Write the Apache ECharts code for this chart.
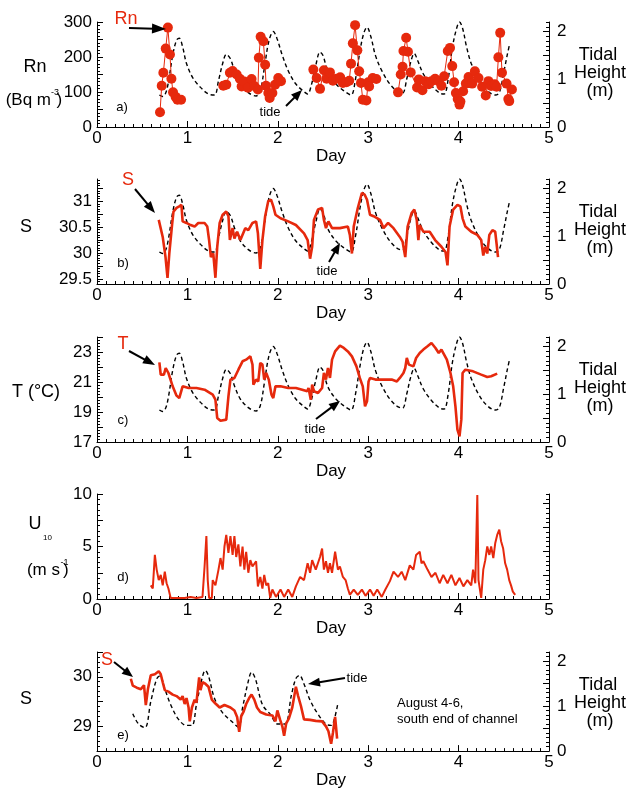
<!DOCTYPE html>
<html>
<head>
<meta charset="utf-8">
<script src="https://cdn.jsdelivr.net/npm/echarts@6/dist/echarts.min.js"></script>
<style>html,body{margin:0;padding:0;background:#fff}#c{width:629px;height:790px}</style>
</head>
<body>
<div id="c"></div>
<script>
// ---------- DATA ----------
const dayTicks = [0, 1, 2, 3, 4, 5];
const tideTickLabels = [0, 1, 2];

// shared tide record (panels a-c)
const tideDay = [0.69,0.727,0.76,0.79,0.837,0.88,0.91,0.947,0.99,1.057,1.145,1.233,1.30,1.344,1.39,1.43,1.476,1.52,1.586,1.674,1.76,1.806,1.85,1.90,1.95,1.99,2.05,2.115,2.20,2.29,2.33,2.37,2.42,2.467,2.50,2.555,2.643,2.73,2.81,2.86,2.907,2.95,2.987,3.03,3.08,3.15,3.24,3.326,3.38,3.427,3.47,3.51,3.546,3.61,3.70,3.79,3.84,3.885,3.93,3.974,4.01,4.044,4.088,4.14,4.23,4.317,4.405,4.45,4.50,4.537,4.56];
const tideHeight = [0.67,0.64,0.71,0.94,1.50,1.82,1.86,1.68,1.33,1.04,0.83,0.69,0.67,0.97,1.33,1.52,1.43,1.18,0.90,0.72,0.65,0.76,1.22,1.79,2.0,1.86,1.50,1.18,0.90,0.74,0.69,0.87,1.29,1.57,1.50,1.15,0.90,0.76,0.67,1.01,1.57,1.96,2.09,1.89,1.50,1.18,0.90,0.74,0.71,1.01,1.36,1.54,1.40,1.11,0.87,0.71,0.69,1.01,1.65,2.04,2.2,2.07,1.68,1.33,0.97,0.76,0.67,0.72,1.15,1.50,1.70];

// a) Radon
const rnDay = [0.697,0.716,0.734,0.76,0.784,0.807,0.823,0.841,0.87,0.89,0.93,
  1.397,1.43,1.47,1.50,1.545,1.58,1.60,1.63,1.67,1.71,1.74,1.78,1.79,1.81,1.84,1.86,1.87,1.895,1.91,1.94,1.97,2.005,2.035,
  2.393,2.43,2.467,2.51,2.54,2.577,2.61,2.65,2.69,2.72,2.76,2.79,2.81,2.83,2.855,2.88,2.90,2.92,2.94,2.98,3.0,3.01,3.05,3.09,
  3.33,3.36,3.38,3.39,3.42,3.44,3.47,3.54,3.56,3.60,3.63,3.67,3.70,3.74,3.78,3.81,3.84,3.88,3.905,3.93,3.95,3.97,3.99,4.01,4.02,4.05,4.08,4.11,4.15,4.18,4.22,4.26,4.30,4.33,4.36,4.40,4.42,4.44,4.46,4.48,4.53,4.55,4.56,4.59];
const rnValue = [42,118,155,224,284,207,138,99,86,78,78,
  118,121,155,160,150,138,116,130,112,137,117,107,198,258,245,178,118,97,83,97,121,140,131,
  164,140,109,162,138,156,132,138,142,126,128,132,181,239,291,219,159,126,78,76,128,116,140,137,
  99,150,172,217,255,215,156,113,136,105,131,122,131,138,131,118,145,217,226,174,128,97,80,64,73,102,124,143,124,159,140,115,90,131,117,122,115,199,269,155,124,80,74,107];

// b) Salinity
const salDay = [0.683,0.727,0.758,0.78,0.80,0.83,0.846,0.88,0.91,0.934,0.947,0.99,1.035,1.08,1.12,1.19,1.22,1.24,1.26,1.286,1.31,1.33,1.357,1.39,1.43,1.454,1.47,1.50,1.52,1.55,1.586,1.64,1.674,1.72,1.76,1.78,1.806,1.83,1.86,1.894,1.925,1.95,1.974,2.03,2.115,2.20,2.29,2.33,2.357,2.38,2.40,2.445,2.49,2.51,2.533,2.56,2.60,2.687,2.775,2.797,2.82,2.84,2.885,2.93,2.96,2.987,3.02,3.06,3.13,3.17,3.22,3.28,3.35,3.38,3.41,3.436,3.48,3.51,3.537,3.555,3.57,3.61,3.68,3.74,3.81,3.855,3.877,3.90,3.94,3.987,4.02,4.044,4.075,4.14,4.207,4.25,4.273,4.295,4.317,4.34,4.374,4.405,4.42,4.436];
const salValue = [30.64,30.31,29.92,29.52,29.99,30.54,30.80,30.87,30.90,30.93,30.61,30.58,30.54,30.51,30.58,30.58,30.51,30.25,29.92,29.99,29.52,30.12,30.58,30.74,30.80,30.71,30.25,30.48,30.28,30.41,30.25,30.48,30.44,30.58,30.61,30.38,29.69,30.25,30.71,31.0,31.03,30.90,30.74,30.67,30.61,30.54,30.38,30.25,29.89,30.12,30.64,30.84,30.87,30.64,30.48,30.61,30.48,30.48,30.51,30.35,29.99,30.51,30.87,31.16,31.13,31.03,30.74,30.71,30.64,30.48,30.58,30.48,30.31,30.22,29.92,30.51,30.77,30.84,30.64,30.25,30.54,30.41,30.41,30.25,30.12,30.02,29.76,30.51,30.84,30.93,30.90,30.67,30.51,30.41,30.35,30.25,29.95,30.12,29.99,30.35,30.44,30.41,30.18,29.92];

// c) Temperature
const tempDay = [0.69,0.705,0.74,0.76,0.79,0.837,0.88,0.91,0.947,1.013,1.10,1.19,1.28,1.31,1.33,1.366,1.43,1.454,1.476,1.52,1.564,1.61,1.65,1.696,1.72,1.73,1.76,1.784,1.806,1.83,1.85,1.872,1.90,1.93,1.95,1.974,2.03,2.115,2.20,2.27,2.326,2.34,2.365,2.38,2.40,2.445,2.49,2.51,2.533,2.555,2.577,2.60,2.634,2.687,2.73,2.775,2.82,2.84,2.87,2.907,2.94,2.965,2.987,3.004,3.02,3.08,3.17,3.26,3.317,3.35,3.39,3.41,3.427,3.45,3.47,3.50,3.53,3.57,3.61,3.656,3.70,3.744,3.78,3.81,3.83,3.87,3.91,3.94,3.965,3.987,4.01,4.03,4.044,4.075,4.16,4.25,4.317,4.36,4.427];
const tempValue = [22.31,21.49,21.49,21.93,21.6,20.71,20.09,19.93,20.71,20.6,20.6,20.49,20.16,19.82,18.6,18.42,18.49,20.04,21.16,21.27,21.82,22.38,22.49,22.71,22.16,20.82,21.16,21.04,22.27,22.16,21.16,21.6,21.16,20.16,19.93,20.71,20.71,20.6,20.6,20.49,20.38,20.6,19.82,20.82,20.38,20.27,20.6,21.6,21.16,21.93,21.27,22.49,23.04,23.42,23.27,23.04,22.71,22.6,22.04,21.27,20.71,19.38,19.71,21.04,21.27,21.16,21.16,21.16,21.04,21.27,21.6,21.93,22.6,22.16,22.04,22.04,22.6,22.93,23.16,23.38,23.6,23.27,22.93,23.16,23.04,22.49,21.6,20.71,19.38,17.82,17.38,18.49,21.6,21.82,21.71,21.49,21.33,21.38,21.56];

// d) Wind speed U10
const windDay = [0.595,0.617,0.64,0.66,0.683,0.705,0.727,0.75,0.77,0.79,0.815,0.88,0.97,1.035,1.10,1.167,1.19,1.21,1.225,1.24,1.27,1.28,1.31,1.344,1.366,1.39,1.41,1.43,1.454,1.476,1.50,1.52,1.54,1.564,1.586,1.61,1.63,1.65,1.674,1.696,1.72,1.76,1.78,1.806,1.83,1.85,1.872,1.894,1.916,1.94,1.98,2.03,2.07,2.115,2.16,2.20,2.247,2.29,2.33,2.357,2.38,2.42,2.467,2.49,2.51,2.533,2.555,2.577,2.60,2.634,2.665,2.687,2.72,2.75,2.775,2.797,2.84,2.885,2.93,2.97,3.02,3.06,3.10,3.15,3.19,3.24,3.28,3.33,3.37,3.41,3.46,3.50,3.53,3.57,3.59,3.61,3.656,3.70,3.744,3.79,3.83,3.877,3.92,3.965,4.01,4.053,4.097,4.14,4.16,4.185,4.207,4.22,4.25,4.273,4.295,4.317,4.34,4.36,4.384,4.405,4.427,4.45,4.47,4.493,4.515,4.537,4.56,4.58,4.60,4.626];
const windValue = [1.3,1.0,4.2,2.8,1.8,2.3,1.3,2.6,1.5,1.0,0.1,0.1,0.1,0.2,0.1,0.2,3.1,6.0,1.8,0.1,0.1,1.8,1.3,2.8,3.9,2.8,5.0,6.1,4.4,6.0,4.2,6.0,4.0,5.2,3.1,5.0,2.8,4.5,2.5,3.7,3.1,3.6,1.2,2.1,1.0,2.3,1.3,1.5,0.1,0.9,0.2,0.9,0.2,0.9,0.2,1.2,2.1,1.8,3.4,2.5,3.7,2.8,4.0,4.8,2.8,3.6,2.5,3.4,2.5,4.5,2.8,3.1,2.1,1.8,1.0,0.4,0.9,0.4,0.9,0.3,0.9,0.3,0.9,0.2,0.9,1.7,2.6,2.1,2.6,1.8,3.2,2.8,4.2,4.5,3.4,3.6,2.8,2.1,2.5,1.5,2.3,1.5,2.3,1.3,2.0,1.2,1.8,1.3,2.8,1.5,9.9,1.8,0.1,2.8,3.7,5.0,4.2,5.0,3.9,5.3,6.1,6.6,5.5,4.8,3.4,2.8,1.8,1.3,0.7,0.4];

// e) Salinity, August 4-6, south end of channel
const salSouthDay = [0.374,0.396,0.44,0.485,0.52,0.54,0.564,0.595,0.64,0.683,0.705,0.727,0.75,0.79,0.837,0.88,0.925,0.947,0.97,0.99,1.013,1.026,1.05,1.08,1.10,1.13,1.145,1.167,1.198,1.233,1.27,1.31,1.357,1.41,1.476,1.52,1.55,1.573,1.595,1.62,1.65,1.683,1.71,1.74,1.77,1.806,1.872,1.94,1.974,1.995,2.026,2.05,2.07,2.093,2.123,2.16,2.185,2.20,2.225,2.256,2.29,2.357,2.42,2.49,2.533,2.56,2.59,2.61,2.634,2.656];
const salSouthValue = [29.96,29.82,29.78,29.75,29.83,29.43,29.76,30.03,30.05,30.11,30.05,29.89,29.73,29.70,29.64,29.61,29.54,29.61,29.45,29.57,29.38,29.10,29.38,29.54,29.48,29.99,29.73,29.89,29.86,29.80,29.54,29.46,29.38,29.43,29.38,29.32,29.19,28.89,29.20,29.29,29.45,29.57,29.64,29.54,29.38,29.29,29.24,29.22,29.10,29.32,29.13,29.00,28.81,29.06,29.16,29.38,29.64,29.80,29.61,29.41,29.14,29.13,29.11,29.10,29.00,28.90,28.65,28.87,29.19,28.75];
const tideSouthDay = [0.396,0.46,0.53,0.595,0.66,0.696,0.75,0.815,0.90,0.99,1.05,1.10,1.16,1.198,1.233,1.30,1.39,1.50,1.564,1.61,1.67,1.71,1.753,1.83,1.916,2.0,2.08,2.15,2.20,2.24,2.29,2.357,2.445,2.533,2.59,2.62,2.665];
const tideSouthHeight = [0.83,0.60,0.52,1.10,1.60,1.67,1.38,1.03,0.71,0.57,0.57,1.03,1.60,1.79,1.67,1.17,0.85,0.64,0.53,0.96,1.52,1.75,1.60,1.03,0.82,0.60,0.60,1.24,1.61,1.68,1.49,1.13,0.82,0.60,0.57,0.67,1.06];

// ---------- CHART ----------
const RED = '#e6290d';
const FONT = "'Liberation Sans', Arial, Helvetica, sans-serif";
const zip = (xs, ys) => xs.map((x, i) => [x, ys[i]]);
const range = (a, b, s) => { const r = []; const n = Math.round((b - a) / s); for (let i = 0; i <= n; i++) r.push(+(a + i * s).toFixed(4)); return r; };

const gridTops = [22, 179, 337, 494, 652];
const grids = gridTops.map(t => ({ left: 97, right: 80, top: t, height: 105 }));

const xAxes = grids.map((g, i) => ({
  type: 'value', gridIndex: i, min: 0, max: 5, interval: 1,
  name: 'Day', nameLocation: 'middle', nameGap: 13,
  nameTextStyle: { fontSize: 17, fontFamily: FONT, color: '#000', padding: [0, 0, 0, 16] },
  axisLine: { lineStyle: { color: '#000', width: 1 } },
  axisTick: { inside: true, length: 6, lineStyle: { color: '#000' } },
  minorTick: { show: true, splitNumber: 10, length: 3, lineStyle: { color: '#000' } },
  axisLabel: { fontSize: 17, fontFamily: FONT, color: '#000', margin: 3,
    customValues: dayTicks },
  splitLine: { show: false }
}));

const yAxes = [];
function addY(grid, min, max, major, labels, minor, position, showLabels) {
  const idx = yAxes.length;
  yAxes.push({
    type: 'value', gridIndex: grid, min, max, position,
    axisLine: { show: true, lineStyle: { color: '#000', width: 1 } },
    axisTick: { show: true, inside: true, length: 6, customValues: major, lineStyle: { color: '#000' } },
    axisLabel: { show: showLabels, customValues: labels, fontSize: 17, fontFamily: FONT, color: '#000', margin: position === 'left' ? 5 : 8 },
    splitLine: { show: false }
  });
  yAxes.push({
    type: 'value', gridIndex: grid, min, max, position,
    axisLine: { show: false },
    axisTick: { show: true, inside: true, length: 3, customValues: minor, lineStyle: { color: '#000' } },
    axisLabel: { show: false },
    splitLine: { show: false }
  });
  return idx;
}

const tideMajor = range(0, 2, 0.5), tideMinor = range(0, 2.2, 0.1);
// a
const yRn = addY(0, 0, 300, range(0, 300, 50), [0, 100, 200, 300], range(0, 300, 10), 'left', true);
const yTa = addY(0, 0, 2.2, tideMajor, tideTickLabels, tideMinor, 'right', true);
// b
const ySal = addY(1, 29.4, 31.43, range(29.5, 31.25, 0.25), [29.5, 30, 30.5, 31], range(29.4, 31.4, 0.05), 'left', true);
const yTb = addY(1, 0, 2.2, tideMajor, tideTickLabels, tideMinor, 'right', true);
// c
const yT = addY(2, 17, 24, range(17, 24, 1), [17, 19, 21, 23], range(17, 24, 0.2), 'left', true);
const yTc = addY(2, 0, 2.2, tideMajor, tideTickLabels, tideMinor, 'right', true);
// d
const yU = addY(3, 0, 10, range(0, 10, 2.5), [0, 5, 10], range(0, 10, 0.5), 'left', true);
const yTd = addY(3, 0, 2.2, tideMajor, [], tideMinor, 'right', false);
// e
const ySs = addY(4, 28.5, 30.5, range(28.5, 30.5, 0.5), [29, 30], range(28.5, 30.5, 0.1), 'left', true);
const yTe = addY(4, 0, 2.2, tideMajor, tideTickLabels, tideMinor, 'right', true);

const tideStyle = { color: '#000', width: 1.4, type: [4, 3] };
const series = [
  { type: 'line', xAxisIndex: 0, yAxisIndex: yTa, data: zip(tideDay, tideHeight), showSymbol: false, smooth: 0.35, lineStyle: tideStyle, z: 1 },
  { type: 'line', xAxisIndex: 0, yAxisIndex: yRn, data: zip(rnDay, rnValue), symbol: 'circle', symbolSize: 10,
    itemStyle: { color: RED }, lineStyle: { color: RED, width: 1 }, z: 3 },
  { type: 'line', xAxisIndex: 1, yAxisIndex: yTb, data: zip(tideDay, tideHeight), showSymbol: false, smooth: 0.35, lineStyle: tideStyle, z: 1 },
  { type: 'line', xAxisIndex: 1, yAxisIndex: ySal, data: zip(salDay, salValue), showSymbol: false, lineStyle: { color: RED, width: 2.6 }, z: 3 },
  { type: 'line', xAxisIndex: 2, yAxisIndex: yTc, data: zip(tideDay, tideHeight), showSymbol: false, smooth: 0.35, lineStyle: tideStyle, z: 1 },
  { type: 'line', xAxisIndex: 2, yAxisIndex: yT, data: zip(tempDay, tempValue), showSymbol: false, lineStyle: { color: RED, width: 2.6 }, z: 3 },
  { type: 'line', xAxisIndex: 3, yAxisIndex: yU, data: zip(windDay, windValue), showSymbol: false, lineStyle: { color: RED, width: 2 }, z: 3 },
  { type: 'line', xAxisIndex: 4, yAxisIndex: yTe, data: zip(tideSouthDay, tideSouthHeight), showSymbol: false, smooth: 0.35, lineStyle: tideStyle, z: 1 },
  { type: 'line', xAxisIndex: 4, yAxisIndex: ySs, data: zip(salSouthDay, salSouthValue), showSymbol: false, lineStyle: { color: RED, width: 2.6 }, z: 3 }
];
// Rn is plotted in separated bursts; break the line between them
(function () {
  const s = series[1]; const d = [];
  s.data.forEach((p, i) => { if (i > 0 && p[0] - s.data[i - 1][0] > 0.2) d.push('-'); d.push(p); });
  s.data = d;
})();

// ---------- ANNOTATIONS ----------
const g = [];
function txt(x, y, text, opt) {
  opt = opt || {};
  g.push({ type: 'text', x, y, z: 10, style: { text, fill: opt.color || '#000', font: (opt.size || 17) + 'px ' + FONT,
    textAlign: opt.align || 'center', textVerticalAlign: 'middle' } });
}
function arrow(x1, y1, x2, y2, hl, hw) {
  hl = hl || 12; hw = hw || 4.5;
  const dx = x2 - x1, dy = y2 - y1, L = Math.hypot(dx, dy), ux = dx / L, uy = dy / L;
  const bx = x2 - ux * hl, by = y2 - uy * hl;
  g.push({ type: 'line', z: 10, shape: { x1, y1, x2: bx + ux * 2, y2: by + uy * 2 }, style: { stroke: '#000', lineWidth: 2 } });
  g.push({ type: 'polygon', z: 10, shape: { points: [[x2, y2], [bx - uy * hw, by + ux * hw], [bx + uy * hw, by - ux * hw]] }, style: { fill: '#000' } });
}
function tidalTitle(top) {
  txt(598, top + 33, 'Tidal', { size: 18 });
  txt(600, top + 51, 'Height', { size: 18 });
  txt(600, top + 69, '(m)', { size: 18 });
}
// panel a
txt(35, 67, 'Rn', { size: 18 });
txt(51, 100, '(Bq m', { size: 17, align: 'right' });
txt(51, 93, '-3', { size: 9, align: 'left' });
txt(56.5, 100, ')', { size: 17, align: 'left' });
tidalTitle(gridTops[0]);
txt(126, 19, 'Rn', { size: 18, color: RED });
arrow(129, 28, 166, 29, 14, 5);
txt(270, 112, 'tide', { size: 13 });
arrow(286, 106, 302, 90, 11, 4.5);
txt(122, 107, 'a)', { size: 13 });
// panel b
txt(26, 227, 'S', { size: 18 });
tidalTitle(gridTops[1]);
txt(128, 180, 'S', { size: 18, color: RED });
arrow(135, 189, 155, 213, 12, 4.5);
txt(327, 271, 'tide', { size: 13 });
arrow(329, 262, 340, 243, 11, 4.5);
txt(123, 263, 'b)', { size: 13 });
// panel c
txt(36, 392, 'T (°C)', { size: 18 });
tidalTitle(gridTops[2]);
txt(123, 344, 'T', { size: 18, color: RED });
arrow(129, 351, 155, 365, 12, 4.5);
txt(315, 429, 'tide', { size: 13 });
arrow(316, 419, 340, 401, 11, 4.5);
txt(123, 420, 'c)', { size: 13 });
// panel d
txt(35, 524, 'U', { size: 18 });
txt(47.5, 538, '10', { size: 8 });
txt(60, 570, '(m s', { size: 17, align: 'right' });
txt(60.5, 563, '-1', { size: 9, align: 'left' });
txt(63, 570, ')', { size: 17, align: 'left' });
txt(123, 577, 'd)', { size: 13 });
// panel e
txt(26, 699, 'S', { size: 18 });
tidalTitle(gridTops[4]);
txt(107, 660, 'S', { size: 18, color: RED });
arrow(114, 662, 133, 677, 11, 4.5);
txt(357, 678, 'tide', { size: 13 });
arrow(345, 678, 308, 684, 12, 4.5);
txt(123, 735, 'e)', { size: 13 });
txt(397, 703, 'August 4-6,', { size: 13, align: 'left' });
txt(397, 719, 'south end of channel', { size: 13, align: 'left' });

const chart = echarts.init(document.getElementById('c'), null, { renderer: 'canvas' });
chart.setOption({
  animation: false,
  backgroundColor: '#fff',
  textStyle: { fontFamily: FONT },
  grid: grids,
  xAxis: xAxes,
  yAxis: yAxes,
  series,
  graphic: g
});
</script>
</body>
</html>
